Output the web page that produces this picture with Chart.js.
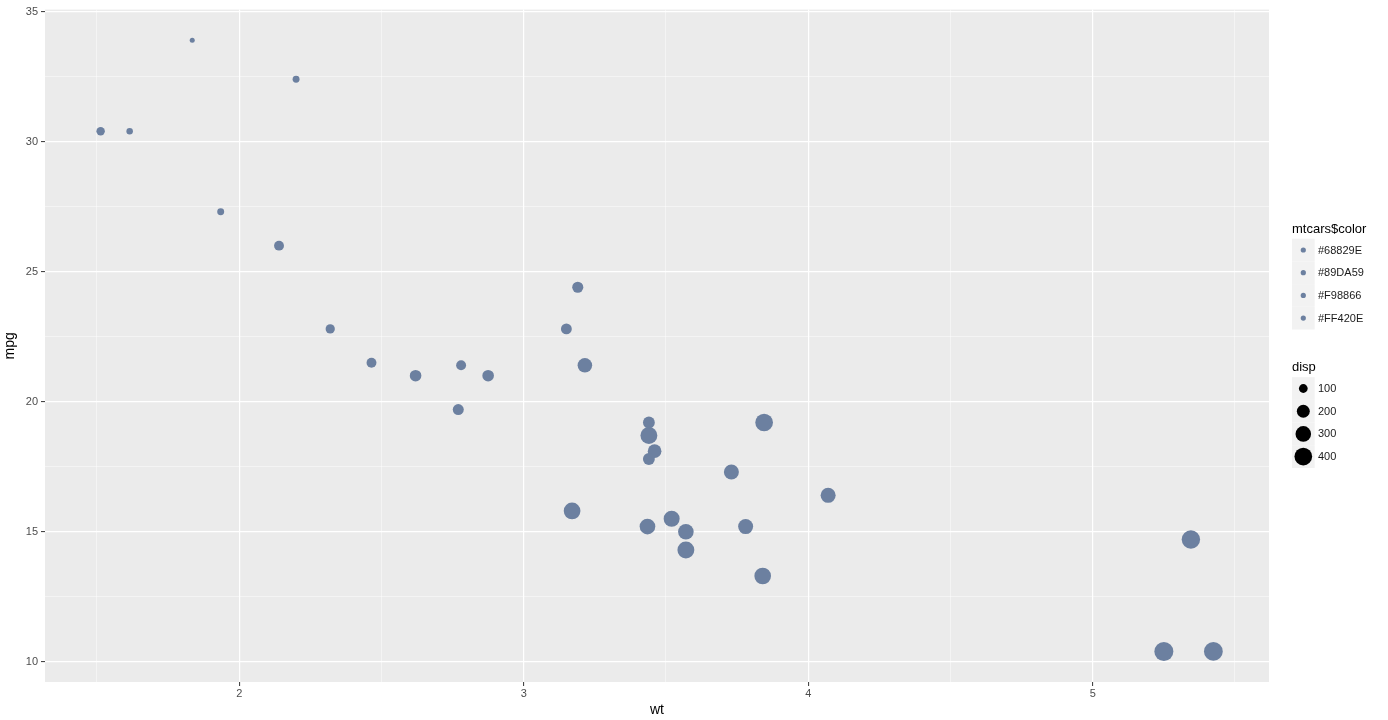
<!DOCTYPE html>
<html>
<head>
<meta charset="utf-8">
<script src="https://cdn.jsdelivr.net/npm/chart.js@4/dist/chart.umd.min.js"></script>
<style>
  body { margin: 0; background: #fff; }
  #wrap { width: 1388px; height: 720px; }
</style>
</head>
<body>
<div id="wrap"><canvas id="plot" width="1388" height="720"></canvas></div>
<script>
'use strict';
// mtcars: weight, miles per gallon, displacement
var wt = [2.620, 2.875, 2.320, 3.215, 3.440, 3.460, 3.570, 3.190, 3.150, 3.440, 3.440, 4.070, 3.730, 3.780, 5.250, 5.424,
  5.345, 2.200, 1.615, 1.835, 2.465, 3.520, 3.435, 3.840, 3.845, 1.935, 2.140, 1.513, 3.170, 2.770, 3.570, 2.780];
var mpg = [21.0, 21.0, 22.8, 21.4, 18.7, 18.1, 14.3, 24.4, 22.8, 19.2, 17.8, 16.4, 17.3, 15.2, 10.4, 10.4,
  14.7, 32.4, 30.4, 33.9, 21.5, 15.5, 15.2, 13.3, 19.2, 27.3, 26.0, 30.4, 15.8, 19.7, 15.0, 21.4];
var disp = [160, 160, 108, 258, 360, 225, 360, 146.7, 140.8, 167.6, 167.6, 275.8, 275.8, 275.8, 472, 460,
  440, 78.7, 75.7, 71.1, 120.1, 318, 304, 350, 400, 79, 120.3, 95.1, 351, 145, 301, 121];

var xTicks = [1.5, 2, 2.5, 3, 3.5, 4, 4.5, 5, 5.5];
var yTicks = [10, 12.5, 15, 17.5, 20, 22.5, 25, 27.5, 30, 32.5, 35];
var colorLabels = ['#68829E', '#89DA59', '#F98866', '#FF420E'];
var dispBreaks = [100, 200, 300, 400];

var pointColor = 'rgb(108,128,160)';
var dispMin = Math.min.apply(null, disp);
var dispMax = Math.max.apply(null, disp);

// area scale like scale_size
function sizeRadius(d) {
  var t = (d - dispMin) / (dispMax - dispMin);
  return 2.5 + 7 * Math.sqrt(Math.max(t, 0));
}

var points = [];
for (var i = 0; i < wt.length; i++) {
  points.push({ x: wt[i], y: mpg[i], r: sizeRadius(disp[i]) });
}

function isMajor(v) { return Math.abs(v - Math.round(v)) < 1e-9; }
function isMajorY(v) { return Math.abs(v / 5 - Math.round(v / 5)) < 1e-9; }

var panelBg = {
  id: 'panelBg',
  beforeDraw: function (chart) {
    var a = chart.chartArea, ctx = chart.ctx;
    ctx.save();
    ctx.fillStyle = '#ebebeb';
    ctx.fillRect(a.left, a.top, a.right - a.left, a.bottom - a.top);
    ctx.restore();
  }
};

var sideLegend = {
  id: 'sideLegend',
  afterDraw: function (chart) {
    var ctx = chart.ctx;
    var x0 = 1292;
    ctx.save();
    ctx.textBaseline = 'middle';
    ctx.textAlign = 'left';
    ctx.fillStyle = '#000';
    ctx.font = '13px "Liberation Sans", Arial, sans-serif';
    ctx.fillText('mtcars$color', x0, 229);
    ctx.fillText('disp', x0, 367);

    ctx.font = '11px "Liberation Sans", Arial, sans-serif';
    for (var k = 0; k < colorLabels.length; k++) {
      var cy = 250 + k * 22.7;
      ctx.fillStyle = '#f2f2f2';
      ctx.fillRect(x0, cy - 11.3, 22.7, 22.7);
      ctx.fillStyle = pointColor;
      ctx.beginPath();
      ctx.arc(x0 + 11.3, cy, 2.6, 0, Math.PI * 2);
      ctx.fill();
      ctx.fillStyle = '#1a1a1a';
      ctx.fillText(colorLabels[k], 1318, cy + 0.5);
    }
    for (var j = 0; j < dispBreaks.length; j++) {
      var sy = 388.5 + j * 22.7;
      ctx.fillStyle = '#f2f2f2';
      ctx.fillRect(x0, sy - 11.3, 22.7, 22.7);
      ctx.fillStyle = '#000';
      ctx.beginPath();
      ctx.arc(x0 + 11.3, sy, sizeRadius(dispBreaks[j]), 0, Math.PI * 2);
      ctx.fill();
      ctx.fillStyle = '#1a1a1a';
      ctx.fillText(String(dispBreaks[j]), 1318, sy + 0.5);
    }
    ctx.restore();
  }
};

function gridOpts(majorFn) {
  return {
    color: function (c) { return majorFn(c.tick.value) ? '#ffffff' : 'rgba(255,255,255,0.55)'; },
    lineWidth: function (c) { return majorFn(c.tick.value) ? 1.2 : 0.8; },
    tickColor: function (c) { return majorFn(c.tick.value) ? '#333333' : 'rgba(0,0,0,0)'; },
    tickLength: 4,
    tickWidth: 1
  };
}

new Chart(document.getElementById('plot'), {
  type: 'bubble',
  data: {
    datasets: [{
      data: points,
      backgroundColor: pointColor,
      borderColor: pointColor,
      borderWidth: 0
    }]
  },
  options: {
    responsive: false,
    animation: false,
    layout: { padding: { top: 9, right: 119, left: 0, bottom: 0 } },
    plugins: { legend: { display: false }, tooltip: { enabled: false } },
    elements: { point: { hoverRadius: 0 } },
    scales: {
      x: {
        type: 'linear',
        min: 1.3175,
        max: 5.6195,
        border: { display: false },
        grid: gridOpts(isMajor),
        afterBuildTicks: function (axis) {
          axis.ticks = xTicks.map(function (v) { return { value: v }; });
        },
        afterFit: function (axis) { axis.height = 38; },
        ticks: {
          autoSkip: false,
          maxRotation: 0,
          padding: 1,
          color: '#4d4d4d',
          font: { family: '"Liberation Sans", Arial, sans-serif', size: 11 },
          callback: function (v) { return isMajor(v) ? String(v) : ''; }
        },
        title: {
          display: true,
          text: 'wt',
          color: '#000',
          padding: { top: 0, bottom: 1 },
          font: { family: '"Liberation Sans", Arial, sans-serif', size: 14 }
        }
      },
      y: {
        type: 'linear',
        min: 9.225,
        max: 35.075,
        border: { display: false },
        grid: gridOpts(isMajorY),
        afterBuildTicks: function (axis) {
          axis.ticks = yTicks.map(function (v) { return { value: v }; });
        },
        afterFit: function (axis) { axis.width = 45; },
        ticks: {
          autoSkip: false,
          padding: 3,
          color: '#4d4d4d',
          font: { family: '"Liberation Sans", Arial, sans-serif', size: 11 },
          callback: function (v) { return isMajorY(v) ? String(v) : ''; }
        },
        title: {
          display: true,
          text: 'mpg',
          color: '#000',
          padding: { top: 2, bottom: 0 },
          font: { family: '"Liberation Sans", Arial, sans-serif', size: 14 }
        }
      }
    }
  },
  plugins: [panelBg, sideLegend]
});
</script>
</body>
</html>
